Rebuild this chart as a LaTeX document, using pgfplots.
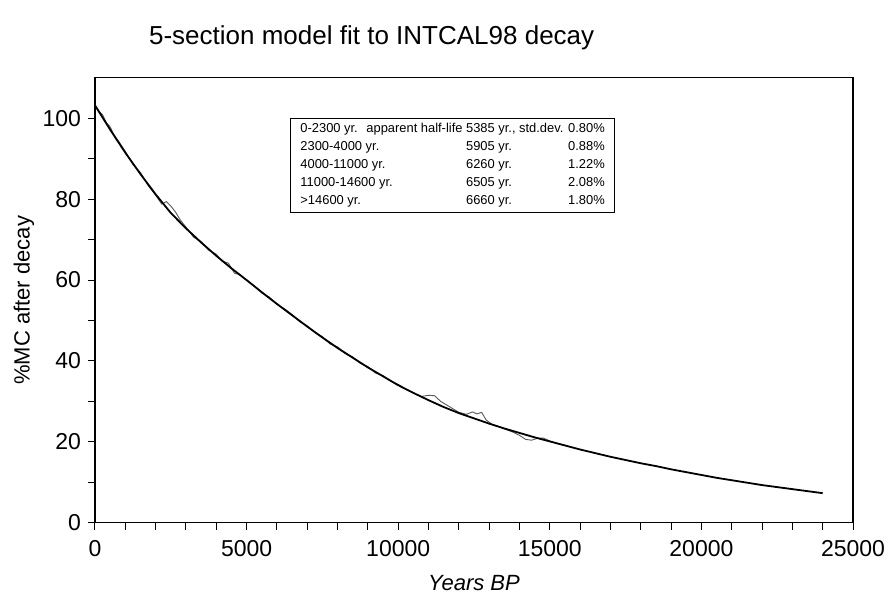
\documentclass[border=0pt]{standalone}
\usepackage{fontspec}
\setmainfont{Liberation Sans}
\usepackage{pgfplots}
\pgfplotsset{compat=1.18}
\newlength\wapp
\newlength\wnum
\begin{document}
\settowidth{\wapp}{\fontsize{6.45}{9}\selectfont apparent half-life\ }%
\settowidth{\wnum}{\fontsize{6.45}{9}\selectfont 5385 yr., std.dev. 0.80\%}%
\begin{tikzpicture}
\useasboundingbox (-47.5pt,-37.15pt) rectangle (396.5pt,261.35pt);
\begin{axis}[
  at={(0,0)}, anchor=south west,
  scale only axis,
  width=379pt, height=222.4pt,
  xmin=0, xmax=25000, ymin=0, ymax=110,
  xtick={0,5000,10000,15000,20000,25000},
  ytick={0,20,40,60,80,100},
  minor x tick num=4,
  minor y tick num=1,
  xtick pos=left, ytick pos=left,
  tick align=outside,
  major tick length=3.5pt, minor tick length=3.5pt,
  scaled x ticks=false,
  /pgf/number format/assume math mode=true,
  /pgf/number format/set thousands separator={},
  tick label style={font=\fontsize{11.5}{13}\selectfont, black},
  xticklabel style={yshift=-2pt},
  axis line style={black, line width=0.6pt},
  every tick/.style={black, line width=0.5pt},
  title={5-section model fit to INTCAL98 decay},
  title style={at={(axis description cs:0.365,1.09)}, anchor=center, yshift=-6pt, font=\fontsize{13}{15}\selectfont},
  xlabel={\itshape Years BP},
  xlabel style={at={(axis description cs:0.5,-0.135)}, anchor=center, font=\fontsize{11}{13}\selectfont},
  ylabel={\%MC after decay},
  ylabel style={at={(axis description cs:-0.0937,0.5)}, anchor=center, font=\fontsize{11}{13}\selectfont},
]
% INTCAL98 data (wiggly)
\addplot[gray!70!black, line width=0.45pt] coordinates {
(0,103.3) (125,101.8) (250,100.9) (375,98.9) (500,97.9) (625,95.9) (750,94.6)
(1000,91.8) (1250,88.6) (1500,86.6) (1750,83.4) (2000,81.0) (2200,78.8)
(2350,79.4) (2500,78.3) (2650,76.9) (2800,75.0) (3000,73.1) (3250,70.6)
(3500,69.5) (3750,67.4) (4000,66.4) (4200,64.6) (4400,64.2) (4600,61.7)
(4800,61.3) (5000,59.9) (5250,58.6) (5500,56.8) (5750,55.8) (6000,54.0)
(6250,52.9) (6500,51.5) (6750,49.7) (7000,48.7) (7250,47.0) (7500,46.0)
(7750,44.2) (8000,43.5) (8250,41.8) (8500,41.0) (8750,39.4) (9000,38.6)
(9250,37.0) (9500,36.4) (9750,35.0) (10000,34.2) (10250,33.0) (10500,32.1)
(10750,31.2) (11000,31.5) (11200,31.4) (11400,30.0) (11600,29.1) (11800,28.2)
(12000,27.3) (12250,26.8) (12450,27.4) (12600,26.9) (12750,27.3) (12900,25.4)
(13100,24.3) (13300,23.8) (13500,23.2) (13750,22.5) (14000,21.6) (14200,20.6)
(14400,20.4) (14600,20.9) (14800,20.9) (15000,20.2) (15250,19.6) (15500,19.1)
};
% 5-section model fit
\addplot[black, line width=0.9pt] coordinates {
(0,103.2) (500,97.2) (1000,91.5) (1500,86.2) (2000,81.2) (2500,76.6)
(3000,72.8) (3500,69.3) (4000,66.0) (4500,62.9) (5000,60.0) (5500,57.0)
(6000,54.1) (6500,51.3) (7000,48.5) (7500,45.8) (8000,43.2) (8500,40.8)
(9000,38.4) (9500,36.2) (10000,34.0) (10500,32.1) (11000,30.3) (11500,28.6)
(12000,27.1) (12500,25.8) (13000,24.5) (13500,23.3) (14000,22.2) (14500,21.1)
(15000,20.1) (15500,19.1) (16000,18.1) (16500,17.2) (17000,16.3) (17500,15.5)
(18000,14.7) (18500,14.0) (19000,13.2) (19500,12.5) (20000,11.8) (20500,11.1)
(21000,10.5) (21500,9.9) (22000,9.3) (22500,8.8) (23000,8.3) (23500,7.8)
(24000,7.3)
};
\node[draw=black, line width=0.5pt, anchor=north west, fill=white,
      inner xsep=5pt, inner ysep=2.5pt, align=left,
      font=\fontsize{6.45}{9}\selectfont]
  at (axis cs:6430,100.2) {%
  \makebox[33pt][l]{0-2300 yr.}apparent half-life 5385 yr., std.dev. 0.80\%\\
  \makebox[\dimexpr33pt+\wapp\relax][l]{2300-4000 yr.}\hbox to \wnum{5905 yr.\hfill 0.88\%}\\
  \makebox[\dimexpr33pt+\wapp\relax][l]{4000-11000 yr.}\hbox to \wnum{6260 yr.\hfill 1.22\%}\\
  \makebox[\dimexpr33pt+\wapp\relax][l]{11000-14600 yr.}\hbox to \wnum{6505 yr.\hfill 2.08\%}\\
  \makebox[\dimexpr33pt+\wapp\relax][l]{>14600 yr.}\hbox to \wnum{6660 yr.\hfill 1.80\%}};
\end{axis}
\end{tikzpicture}
\end{document}
